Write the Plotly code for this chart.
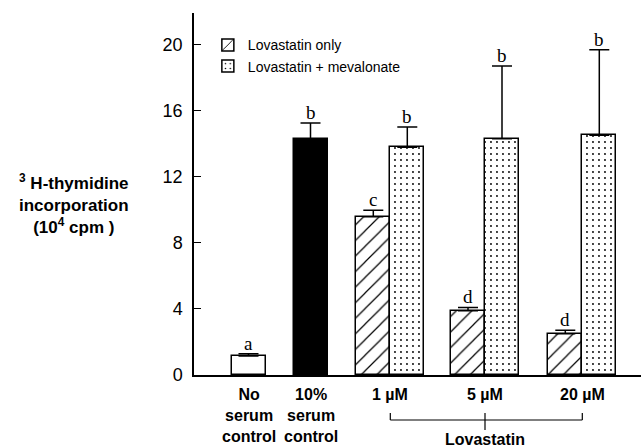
import plotly.graph_objects as go

# ---- data ----
groups = ["No serum control", "10% serum control", "1 µM", "5 µM", "20 µM"]
control_values = [1.15, 14.3]
control_errors = [0.13, 0.95]
control_letters = ["a", "b"]
lova_only = [9.57, 3.89, 2.5]
lova_only_err = [0.4, 0.2, 0.2]
lova_only_letters = ["c", "d", "d"]
lova_meva = [13.78, 14.3, 14.5]
lova_meva_err = [1.22, 4.39, 5.18]
lova_meva_letters = ["b", "b", "b"]
y_ticks = [0, 4, 8, 12, 16, 20]
x_labels = ["No<br>serum<br>control", "10%<br>serum<br>control", "1 µM", "5 µM", "20 µM"]

# ---- layout helpers (positions on a numeric x axis) ----
centers = [54.5, 116.5, 196.3, 291.0, 388.3]
bw = 34

fig = go.Figure()

fig.add_trace(go.Bar(
    x=centers[:2], y=control_values, width=bw,
    marker=dict(color=["white", "black"], line=dict(color="black", width=1.5)),
    error_y=dict(type="data", symmetric=False, array=control_errors,
                 arrayminus=[0, 0], color="black", thickness=1.5, width=10),
    showlegend=False,
))

lova_c = centers[2:]
fig.add_trace(go.Bar(
    x=[c - bw / 2 for c in lova_c], y=lova_only, width=bw,
    name="Lovastatin only",
    marker=dict(color="white", line=dict(color="black", width=1.5),
                pattern=dict(shape="/", fgcolor="black", bgcolor="white", fgopacity=1,
                             size=11, solidity=0.11)),
    error_y=dict(type="data", symmetric=False, array=lova_only_err,
                 arrayminus=[0] * 3, color="black", thickness=1.5, width=10),
))
fig.add_trace(go.Bar(
    x=[c + bw / 2 for c in lova_c], y=lova_meva, width=bw,
    name="Lovastatin + mevalonate",
    marker=dict(color="white", line=dict(color="black", width=1.5),
                pattern=dict(shape=".", fgcolor="black", bgcolor="white", fgopacity=1,
                             size=6, solidity=0.08)),
    error_y=dict(type="data", symmetric=False, array=lova_meva_err,
                 arrayminus=[0] * 3, color="black", thickness=1.5, width=10),
))

annotations = []
letter_font = dict(family="Liberation Serif, Times New Roman, serif", size=19, color="black")


def add_letter(x, top, txt):
    annotations.append(dict(x=x, y=top, xref="x", yref="y", text=txt, showarrow=False,
                            yanchor="bottom", yshift=-2, font=letter_font))


for i in range(2):
    add_letter(centers[i], control_values[i] + control_errors[i], control_letters[i])
for i, c in enumerate(lova_c):
    add_letter(c - bw / 2, lova_only[i] + lova_only_err[i], lova_only_letters[i])
    add_letter(c + bw / 2, lova_meva[i] + lova_meva_err[i], lova_meva_letters[i])

label_font = dict(family="Liberation Sans, Arial, sans-serif", size=16, color="black")
for c, lab in zip(centers, x_labels):
    annotations.append(dict(x=c, y=0, xref="x", yref="y", text="<b>" + lab + "</b>",
                            showarrow=False, yanchor="top", yshift=-9,
                            font=label_font, align="center"))

ph = 362.0


def py(px):
    return (375 - px) / ph


shapes = [
    dict(type="line", xref="x", yref="paper", x0=lova_c[0], x1=lova_c[2],
         y0=py(420), y1=py(420), line=dict(color="black", width=1.2)),
    dict(type="line", xref="x", yref="paper", x0=lova_c[0], x1=lova_c[0],
         y0=py(420), y1=py(413), line=dict(color="black", width=1.2)),
    dict(type="line", xref="x", yref="paper", x0=lova_c[2], x1=lova_c[2],
         y0=py(420), y1=py(413), line=dict(color="black", width=1.2)),
    dict(type="line", xref="x", yref="paper", x0=lova_c[1], x1=lova_c[1],
         y0=py(413), y1=py(430), line=dict(color="black", width=1.2)),
]
annotations.append(dict(x=lova_c[1], y=py(439), xref="x", yref="paper",
                        text="<b>Lovastatin</b>", showarrow=False, yanchor="middle",
                        font=label_font))

annotations.append(dict(x=-0.268, y=py(204), xref="paper", yref="paper",
                        text="<b><sup>3</sup> H-thymidine<br>incorporation<br>(10<sup>4</sup> cpm )</b>",
                        showarrow=False, align="center", xanchor="center", yanchor="middle",
                        font=dict(family="Liberation Sans, Arial, sans-serif", size=17, color="black")))

fig.update_layout(
    width=641, height=447,
    margin=dict(l=194, r=0, t=13, b=72),
    paper_bgcolor="white", plot_bgcolor="white",
    barmode="overlay",
    bargap=0,
    annotations=annotations,
    shapes=shapes,
    legend=dict(x=0.031, y=0.955, xanchor="left", yanchor="top",
                bgcolor="rgba(0,0,0,0)", tracegroupgap=0,
                font=dict(family="Liberation Sans, Arial, sans-serif", size=14, color="black"),
                itemwidth=30),
    xaxis=dict(range=[0, 447], showline=True, linecolor="black", linewidth=1.5,
               showticklabels=False, ticks="", showgrid=False, zeroline=False, fixedrange=True),
    yaxis=dict(range=[0, 21.9], tickvals=y_ticks, showline=True, linecolor="black",
               linewidth=1.5, ticks="inside", ticklen=7, tickwidth=1.2, tickcolor="black",
               showgrid=False, zeroline=False,
               tickfont=dict(family="Liberation Sans, Arial, sans-serif", size=18, color="black"),
               ticklabelstandoff=6),
)

fig.write_html("out.html", config={"displayModeBar": False},
               post_script="document.body.style.margin='0px';document.body.style.overflow='hidden';")
